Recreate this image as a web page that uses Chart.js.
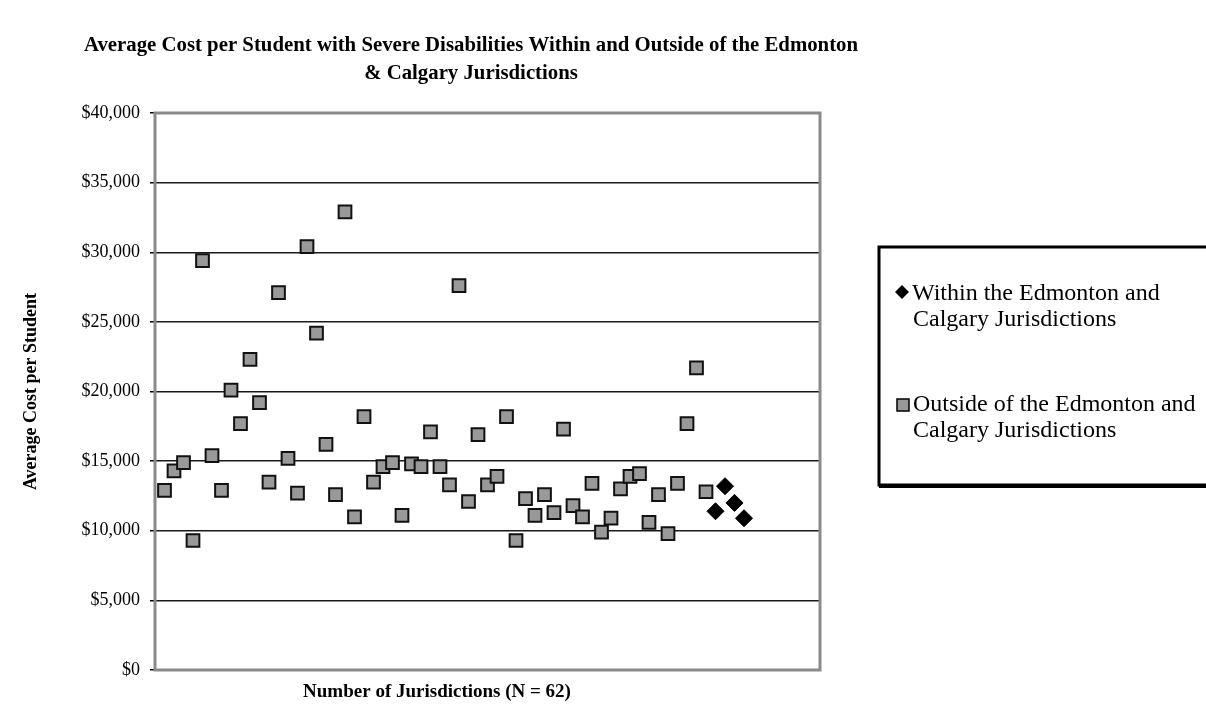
<!DOCTYPE html>
<html lang="en">
<head>
    <meta charset="UTF-8">
    <title>Average Cost per Student with Severe Disabilities</title>
    <script src="https://cdn.jsdelivr.net/npm/chart.js"></script>
    <style>
        body { margin: 0; background: #fff; }
        #wrap { width: 1206px; height: 705px; }
    </style>
</head>
<body>
    <div id="wrap"><canvas id="myChart" width="1206" height="705"></canvas></div>

    <script>
        // jurisdiction number (x) and average cost per student (y)
        const outsideIdx = [1, 2, 3, 4, 5, 6, 7, 8, 9, 10, 11, 12, 13, 14, 15, 16, 17, 18, 19, 20,
            21, 22, 23, 24, 25, 26, 27, 28, 29, 30, 31, 32, 33, 34, 35, 36, 37, 38, 39, 40,
            41, 42, 43, 44, 45, 46, 47, 48, 49, 50, 51, 52, 53, 54, 55, 56, 57, 58];
        const outsideCost = [12900, 14300, 14900, 9300, 29400, 15400, 12900, 20100, 17700, 22300,
            19200, 13500, 27100, 15200, 12700, 30400, 24200, 16200, 12600, 32900,
            11000, 18200, 13500, 14600, 14900, 11100, 14800, 14600, 17100, 14600,
            13300, 27600, 12100, 16900, 13300, 13900, 18200, 9300, 12300, 11100,
            12600, 11300, 17300, 11800, 11000, 13400, 9900, 10900, 13000, 13900,
            14100, 10600, 12600, 9800, 13400, 17700, 21700, 12800];
        const withinIdx = [59, 60, 61, 62];
        const withinCost = [11400, 13200, 12000, 10900];

        const yTicks = [0, 5000, 10000, 15000, 20000, 25000, 30000, 35000, 40000];
        const titleLines = ['Average Cost per Student with Severe Disabilities Within and Outside of the Edmonton',
            '& Calgary Jurisdictions'];
        const xTitle = 'Number of Jurisdictions (N = 62)';
        const yTitle = 'Average Cost per Student';
        const withinLabel = ['Within the Edmonton and', 'Calgary Jurisdictions'];
        const outsideLabel = ['Outside of the Edmonton and', 'Calgary Jurisdictions'];

        const serif = '"Liberation Serif", "Times New Roman", serif';
        const squareFill = '#999999';

        function toPoints(xs, ys) {
            return xs.map((x, i) => ({ x: x, y: ys[i] }));
        }

        // plot frame, titles and the boxed legend of the original
        const decorations = {
            id: 'decorations',
            beforeDatasetsDraw(chart) {
                const { ctx, chartArea: a } = chart;
                ctx.save();
                ctx.strokeStyle = '#8a8a8a';
                ctx.lineWidth = 3;
                ctx.strokeRect(a.left, a.top, a.right - a.left, a.bottom - a.top);
                ctx.restore();
            },
            afterDraw(chart) {
                const ctx = chart.ctx;
                const ds = chart.data.datasets;
                ctx.save();
                ctx.fillStyle = '#000';
                ctx.textAlign = 'center';
                ctx.textBaseline = 'middle';
                ctx.font = 'bold 20.8px ' + serif;
                ctx.fillText(titleLines[0], 471, 46);
                ctx.fillText(titleLines[1], 471, 74);

                ctx.font = 'bold 19px ' + serif;
                ctx.fillText(xTitle, 437, 692);

                // legend box with its heavy lower edge
                ctx.strokeStyle = '#000';
                ctx.lineWidth = 3;
                ctx.strokeRect(879, 247, 340, 238);
                ctx.fillRect(879, 484, 340, 4);

                // diamond marker
                ctx.beginPath();
                ctx.moveTo(895, 292); ctx.lineTo(902, 285); ctx.lineTo(909, 292); ctx.lineTo(902, 299);
                ctx.closePath();
                ctx.fill();

                // square marker
                ctx.fillStyle = ds[1].backgroundColor;
                ctx.fillRect(897, 399, 12, 12);
                ctx.lineWidth = 1.5;
                ctx.strokeRect(897, 399, 12, 12);

                ctx.fillStyle = '#000';
                ctx.textAlign = 'left';
                ctx.font = '24px ' + serif;
                ctx.fillText(withinLabel[0], 912, 294);
                ctx.fillText(withinLabel[1], 913, 320);
                ctx.fillText(outsideLabel[0], 913, 405);
                ctx.fillText(outsideLabel[1], 913, 431);
                ctx.restore();
            }
        };

        const ctx = document.getElementById('myChart').getContext('2d');
        const myChart = new Chart(ctx, {
            type: 'scatter',
            data: {
                datasets: [{
                    label: withinLabel.join(' '),
                    data: toPoints(withinIdx, withinCost),
                    pointStyle: 'rectRot',
                    pointRadius: 8.5,
                    backgroundColor: '#000',
                    borderColor: '#000',
                    borderWidth: 1
                }, {
                    label: outsideLabel.join(' '),
                    data: toPoints(outsideIdx, outsideCost),
                    pointStyle: 'rect',
                    pointRadius: 9,
                    backgroundColor: squareFill,
                    borderColor: '#111',
                    borderWidth: 2
                }]
            },
            options: {
                responsive: false,
                animation: false,
                layout: { padding: { left: 0, right: 386, top: 113, bottom: 35 } },
                plugins: {
                    legend: { display: false },
                    tooltip: { enabled: false }
                },
                scales: {
                    x: {
                        type: 'linear',
                        min: 0,
                        max: 70,
                        display: false
                    },
                    y: {
                        min: 0,
                        max: 40000,
                        afterBuildTicks(scale) {
                            scale.ticks = yTicks.map(v => ({ value: v }));
                        },
                        afterFit(scale) {
                            scale.width = 155;
                        },
                        ticks: {
                            color: '#000',
                            padding: 10,
                            font: { family: serif, size: 18 },
                            callback: v => '$' + v.toLocaleString('en-US')
                        },
                        grid: {
                            color: '#1a1a1a',
                            lineWidth: 1.5,
                            tickLength: 5,
                            tickColor: '#000'
                        },
                        border: { display: false },
                        title: {
                            display: true,
                            text: yTitle,
                            color: '#000',
                            padding: { top: 21, bottom: 0 },
                            font: { family: serif, size: 18, weight: 'bold' }
                        }
                    }
                }
            },
            plugins: [decorations]
        });
    </script>
</body>
</html>
